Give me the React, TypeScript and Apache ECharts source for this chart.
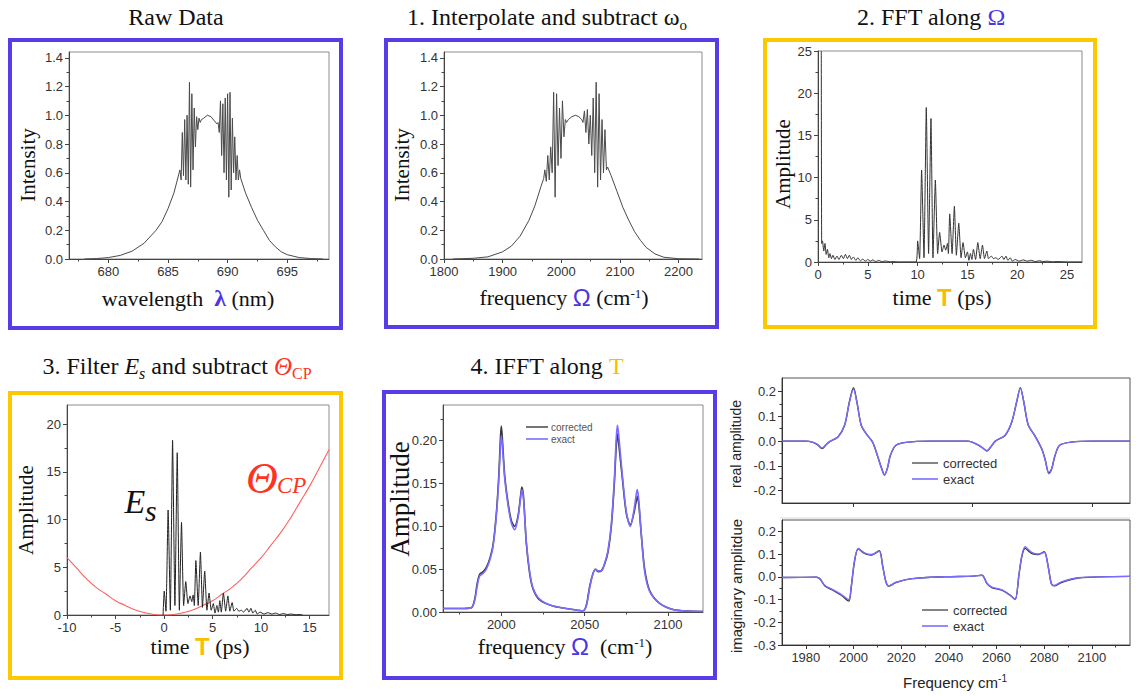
import { useEffect, useRef } from 'react';
import * as echarts from 'echarts';

// ---------------- data ----------------
// Raw data: wavelength (nm) vs intensity
const rawWavelength = [678, 679, 680, 681, 682, 683, 684, 684.5, 685, 685.5,
  686.0, 686.1, 686.2, 686.3, 686.4, 686.5, 686.6, 686.7, 686.8, 686.9,
  687.0, 687.1, 687.2, 687.3, 687.4, 687.5, 687.6, 687.7, 687.8,
  688.0, 688.3, 688.6, 688.9, 689.1,
  689.2, 689.3, 689.4, 689.5, 689.6, 689.7, 689.8, 689.9,
  690.0, 690.1, 690.2, 690.3, 690.4, 690.5, 690.6, 690.7, 690.8, 690.9,
  691.0, 691.1,
  691.5, 692, 692.5, 693, 693.5, 694, 694.5, 695, 696, 697, 698];
const rawIntensity = [0, 0.003, 0.01, 0.025, 0.055, 0.11, 0.2, 0.26, 0.35, 0.46,
  0.62, 0.55, 0.88, 0.58, 0.97, 0.55, 1.0, 0.52, 1.23, 0.5,
  1.15, 0.62, 1.05, 0.78, 0.99, 0.9, 0.98, 0.95, 0.97,
  0.98, 1.0, 0.99, 0.96, 0.94,
  0.95, 0.88, 1.1, 0.72, 1.08, 0.6, 1.12, 0.55,
  1.15, 0.43, 1.16, 0.48, 0.98, 0.6, 0.85, 0.55, 0.72, 0.55,
  0.62, 0.56,
  0.46, 0.36, 0.27, 0.2, 0.13, 0.085, 0.05, 0.03, 0.01, 0.003, 0];

// Step 1: frequency (cm-1) vs intensity
const interpFreq = [1815, 1850, 1875, 1900, 1915, 1930, 1945, 1955, 1965, 1970,
  1972, 1974.5, 1977, 1979.5, 1982, 1984.5, 1987, 1989.5, 1992, 1994.5, 1997, 1999.5, 2002, 2004.5, 2007, 2009,
  2012, 2018, 2024, 2030, 2035,
  2037, 2039.5, 2042, 2044.5, 2047, 2049.5, 2052, 2054.5, 2057, 2059.5, 2062, 2064.5, 2067, 2069.5, 2072, 2074.5, 2077, 2079,
  2085, 2095, 2105, 2115, 2125, 2135, 2145, 2160, 2175, 2200, 2235];
const interpIntensity = [0, 0.005, 0.015, 0.05, 0.09, 0.16, 0.27, 0.37, 0.5, 0.56,
  0.62, 0.54, 0.72, 0.55, 0.78, 0.6, 1.16, 0.43, 1.15, 0.65, 1.05, 0.7, 1.1, 0.85, 0.97, 0.95,
  0.97, 0.99, 1.0, 0.99, 0.97,
  0.95, 1.03, 0.88, 1.04, 0.8, 1.0, 0.72, 1.12, 0.6, 1.23, 0.5, 1.15, 0.55, 0.97, 0.6, 0.9, 0.62, 0.64,
  0.58, 0.47, 0.36, 0.27, 0.19, 0.13, 0.08, 0.035, 0.012, 0.002, 0];

// Step 2: FFT amplitude vs time (ps)
const fftTime = [0.33, 0.37, 0.45, 0.58, 0.7, 0.82, 0.95, 1.08, 1.2, 1.35,
  1.5, 1.7, 1.9, 2.1, 2.35, 2.55, 2.75, 2.95, 3.15, 3.35,
  3.55, 3.8, 4.0, 4.25, 4.5, 4.75, 5.0, 5.25, 5.5, 5.8,
  6.1, 6.4, 6.8, 7.2, 7.6, 8.0, 9.83, 10.0, 10.2, 10.4,
  10.64, 10.87, 11.1, 11.34, 11.54, 11.78, 12.01, 12.21, 12.45, 12.65,
  12.82, 12.99, 13.09, 13.22, 13.46, 13.69, 13.89, 14.13, 14.36, 14.56,
  14.8, 15.0, 15.15, 15.3, 15.45, 15.6, 15.82, 16.04, 16.28, 16.51,
  16.71, 16.95, 17.11, 17.4, 17.6, 17.85, 18.1, 18.46, 18.66, 18.86,
  19.06, 19.3, 19.5, 19.8, 20.2, 20.6, 21.0, 21.4, 21.8, 22.2,
  22.6, 23.0, 23.5, 24.0, 25.0, 26.5];
const fftAmplitude = [25, 2.2, 2.5, 1.3, 2.2, 0.9, 1.5, 0.5, 1.0, 0.4,
  0.8, 0.3, 0.7, 0.3, 0.8, 0.4, 0.9, 0.4, 0.8, 0.3,
  0.6, 0.2, 0.5, 0.15, 0.35, 0.1, 0.3, 0.1, 0.25, 0.05,
  0.2, 0.05, 0.12, 0.02, 0.06, 0, 0, 2.5, 0.4, 10.9,
  0.5, 18.3, 1.0, 17.0, 0.5, 9.7, 1.0, 3.5, 1.2, 2.0,
  1.4, 2.2, 1.0, 5.7, 1.0, 6.6, 0.8, 4.6, 0.5, 2.3,
  0.5, 1.2, 0.2, 1.0, 0.3, 1.5, 0.3, 2.3, 0.4, 2.0,
  0.4, 1.3, 0.4, 0.7, 0.4, 0.5, 0.3, 0.7, 0.3, 0.7,
  0.2, 0.5, 0.1, 0.3, 0.1, 0.25, 0.1, 0.2, 0.05, 0.15,
  0.05, 0.1, 0.02, 0.05, 0, 0];

// Step 3: filtered E_s and chirp phase Θ_CP vs time (ps)
const esTime = [-0.1, 0.02, 0.2, 0.42, 0.65, 0.88, 1.12, 1.36, 1.58, 1.8,
  2.02, 2.24, 2.46, 2.68, 2.86, 3.0, 3.12, 3.28, 3.52, 3.75,
  3.96, 4.19, 4.42, 4.64, 4.86, 5.08, 5.25, 5.45, 5.6, 5.75,
  5.9, 6.12, 6.35, 6.58, 6.78, 7.02, 7.2, 7.48, 7.7, 7.95,
  8.2, 8.55, 8.75, 8.95, 9.15, 9.4, 9.6, 9.9, 10.3, 10.7,
  11.1, 11.5, 11.9, 12.3, 12.7, 13.1, 13.6, 14.0, 14.3];
const esAmplitude = [0, 2.5, 0.4, 11.0, 0.5, 18.3, 1.0, 17.0, 0.5, 9.7,
  1.0, 3.5, 1.2, 2.0, 1.4, 2.1, 1.0, 5.7, 1.0, 6.6,
  0.8, 4.6, 0.5, 2.3, 0.5, 1.2, 0.2, 1.0, 0.3, 1.5,
  0.3, 2.3, 0.4, 2.0, 0.4, 1.3, 0.4, 0.7, 0.4, 0.5,
  0.3, 0.7, 0.3, 0.7, 0.2, 0.5, 0.1, 0.3, 0.1, 0.25,
  0.1, 0.2, 0.05, 0.15, 0.05, 0.1, 0.02, 0.05, 0];
const thetaTime = [-10, -9, -8, -7, -6, -5, -4, -3, -2, -1, 0, 1, 2, 3, 4, 5, 6, 7, 8, 9, 10, 11, 12, 13, 14, 15, 16, 17];
const thetaCP = [6.0, 4.9, 3.8, 2.9, 2.2, 1.5, 1.0, 0.55, 0.25, 0.06, 0, 0.06, 0.25, 0.55, 1.0, 1.5, 2.2, 2.9, 3.8, 4.9, 6.0, 7.3, 8.6, 10.1, 11.8, 13.5, 15.4, 17.3];

// Step 4: IFFT amplitude vs frequency
const ifftFreq = [1965, 1975, 1982, 1984, 1985.5, 1987, 1989, 1991, 1993, 1995,
  1997, 1998.5, 1999.5, 2000, 2000.7, 2002, 2004, 2006, 2008, 2010,
  2011.5, 2012.3, 2013.3, 2015, 2017, 2019, 2023, 2031, 2043, 2049,
  2051, 2053, 2055, 2056.5, 2058, 2060, 2062, 2064, 2066, 2067.8,
  2069, 2069.7, 2070.5, 2072.5, 2075, 2077.4, 2079.5, 2081, 2081.6, 2082.5,
  2084, 2086, 2089, 2095, 2103, 2113, 2121];
const ifftCorrected = [0.004, 0.004, 0.005, 0.015, 0.033, 0.044, 0.047, 0.052, 0.062, 0.078,
  0.115, 0.16, 0.205, 0.217, 0.2, 0.16, 0.128, 0.107, 0.1, 0.112,
  0.135, 0.146, 0.135, 0.08, 0.045, 0.027, 0.014, 0.007, 0.003, 0.0015,
  0.008, 0.03, 0.045, 0.05, 0.047, 0.048, 0.056, 0.07, 0.1, 0.15,
  0.195, 0.208, 0.195, 0.158, 0.115, 0.102, 0.115, 0.13, 0.135, 0.125,
  0.09, 0.05, 0.025, 0.01, 0.003, 0.001, 0.0005];
const ifftExact = [0.004, 0.004, 0.005, 0.013, 0.03, 0.042, 0.045, 0.05, 0.06, 0.076,
  0.112, 0.155, 0.195, 0.206, 0.192, 0.156, 0.125, 0.104, 0.096, 0.11,
  0.132, 0.143, 0.132, 0.082, 0.047, 0.028, 0.015, 0.007, 0.003, 0.0015,
  0.007, 0.028, 0.045, 0.05, 0.048, 0.048, 0.057, 0.072, 0.103, 0.155,
  0.205, 0.218, 0.205, 0.162, 0.117, 0.1, 0.118, 0.138, 0.143, 0.13,
  0.09, 0.047, 0.024, 0.01, 0.003, 0.001, 0.0005];

// Real part
const realFreq = [1970, 1980, 1983, 1985, 1986.8, 1988.5, 1990, 1993.5, 1996.3, 1998.3,
  2000, 2001.4, 2003.2, 2005.3, 2008, 2010, 2011.8, 2013, 2014.2, 2015.5,
  2017.8, 2022, 2032, 2048, 2052.5, 2054.5, 2056, 2057.5, 2059.5, 2063.6,
  2066.4, 2068.5, 2070, 2071.4, 2073.3, 2076, 2078.9, 2080.3, 2082, 2083.2,
  2084.5, 2086.5, 2091.4, 2100, 2116];
const realCorrected = [0, 0, -0.005, -0.015, -0.03, -0.015, -0.002, 0.017, 0.065, 0.16,
  0.216, 0.16, 0.065, 0.03, -0.004, -0.057, -0.11, -0.136, -0.11, -0.057,
  -0.017, -0.005, 0, 0, -0.017, -0.03, -0.04, -0.025, 0, 0.023,
  0.077, 0.16, 0.216, 0.16, 0.065, 0.023, -0.03, -0.07, -0.13, -0.11,
  -0.06, -0.017, -0.004, 0, 0];
const realExact = [0, 0, -0.005, -0.014, -0.028, -0.014, -0.002, 0.018, 0.066, 0.158,
  0.21, 0.158, 0.066, 0.03, -0.004, -0.058, -0.112, -0.138, -0.11, -0.056,
  -0.017, -0.005, 0, 0, -0.016, -0.03, -0.038, -0.024, 0, 0.024,
  0.078, 0.162, 0.214, 0.162, 0.066, 0.022, -0.03, -0.072, -0.132, -0.11,
  -0.058, -0.017, -0.004, 0, 0];

// Imaginary part
const imagFreq = [1970, 1984.5, 1986, 1988, 1991.4, 1994.9, 1998, 1999, 2000.4, 2002,
  2004.6, 2007.4, 2010.8, 2012.2, 2013.6, 2014.7, 2017.8, 2024.7, 2038.6, 2050.4,
  2053.9, 2056, 2058, 2062.2, 2065.7, 2067.8, 2069.4, 2070.6, 2072, 2074.7,
  2077.5, 2080, 2081.7, 2083, 2084.2, 2087.2, 2094.2, 2116];
const imagCorrected = [-0.003, -0.002, -0.01, -0.04, -0.059, -0.081, -0.107, -0.05, 0.066, 0.123,
  0.103, 0.096, 0.115, 0.05, -0.022, -0.041, -0.025, -0.008, 0, 0.003,
  0.007, -0.03, -0.047, -0.059, -0.081, -0.099, 0.007, 0.088, 0.125, 0.103,
  0.098, 0.11, 0.044, -0.03, -0.04, -0.025, -0.005, 0.002];
const imagExact = [-0.003, -0.002, -0.01, -0.038, -0.057, -0.078, -0.1, -0.045, 0.07, 0.125,
  0.105, 0.098, 0.112, 0.048, -0.022, -0.04, -0.024, -0.008, 0, 0.003,
  0.007, -0.028, -0.045, -0.057, -0.08, -0.1, 0.01, 0.092, 0.132, 0.108,
  0.1, 0.108, 0.042, -0.03, -0.038, -0.022, -0.004, 0.002];

// tick values
const ticks1x = [680, 685, 690, 695];
const minor1x = [677.5, 682.5, 687.5, 692.5, 697.5];
const ticksIntensity = [0, 0.2, 0.4, 0.6, 0.8, 1.0, 1.2, 1.4];
const minorIntensity = [0.1, 0.3, 0.5, 0.7, 0.9, 1.1, 1.3];
const ticks2x = [1800, 1900, 2000, 2100, 2200];
const minor2x = [1850, 1950, 2050, 2150];
const ticks3x = [0, 5, 10, 15, 20, 25];
const minor3x = [2.5, 7.5, 12.5, 17.5, 22.5];
const ticks3y = [0, 5, 10, 15, 20, 25];
const minor3y = [2.5, 7.5, 12.5, 17.5, 22.5];
const ticks4x = [-10, -5, 0, 5, 10, 15];
const minor4x = [-7.5, -2.5, 2.5, 7.5, 12.5];
const ticks4y = [0, 5, 10, 15, 20];
const minor4y = [2.5, 7.5, 12.5, 17.5];
const ticks5x = [2000, 2050, 2100];
const minor5x = [1975, 2025, 2075];
const ticks5y = [0, 0.05, 0.1, 0.15, 0.2];
const minor5y = [0.025, 0.075, 0.125, 0.175, 0.225];
const ticks6x = [2000, 2050, 2100];
const ticks6y = [-0.2, -0.1, 0, 0.1, 0.2];
const minor6y = [-0.15, -0.05, 0.05, 0.15];
const ticks7x = [1980, 2000, 2020, 2040, 2060, 2080, 2100];
const minor7x = [1990, 2010, 2030, 2050, 2070, 2090, 2110];
const ticks7y = [-0.3, -0.2, -0.1, 0, 0.1, 0.2];
const minor7y = [-0.25, -0.15, -0.05, 0.05, 0.15];

// ---------------- styling ----------------
const SERIF = "'Liberation Serif', 'Times New Roman', serif";
const SANS = "'Liberation Sans', Arial, sans-serif";
const PURPLE = '#5a3ce6';
const BLUE = '#4a36e2';
const GOLD = '#fcc800';
const GOLD_T = '#f7bf00';
const RED = '#ff3322';
const INK = '#111';

const pair = (xs: number[], ys: number[]) => xs.map((x, i) => [x, ys[i]]);

type AxisSpec = {
  grid: number; min: number; max: number; majors: number[]; minors: number[];
  labels?: boolean; fmt?: (v: number) => string; color?: string;
};

function axisPair(dim: 'x' | 'y', s: AxisSpec) {
  const position = dim === 'x' ? 'bottom' : 'left';
  const c = s.color || '#444';
  const major = {
    type: 'value', gridIndex: s.grid, min: s.min, max: s.max, position,
    axisLine: { show: true, onZero: false, lineStyle: { color: c, width: 1 } },
    axisTick: { show: true, inside: false, length: 4, customValues: s.majors, lineStyle: { color: c, width: 1 } },
    axisLabel: {
      show: s.labels !== false, customValues: s.majors,
      formatter: s.fmt || ((v: number) => String(v)),
      color: '#333', fontSize: 13, fontFamily: SANS, margin: 6,
    },
    splitLine: { show: false },
    minorTick: { show: false },
  };
  const minor = {
    type: 'value', gridIndex: s.grid, min: s.min, max: s.max, position,
    axisLine: { show: false, onZero: false },
    axisTick: { show: s.minors.length > 0, inside: false, length: 2.5, customValues: s.minors.length ? s.minors : [s.min], lineStyle: { color: c, width: 1 } },
    axisLabel: { show: false },
    splitLine: { show: false },
  };
  return [major, minor];
}

const f1 = (v: number) => v.toFixed(1);
const f2 = (v: number) => v.toFixed(2);

const gridBoxes = [
  { left: 69, top: 52, width: 260, height: 207, borderColor: '#8c8c8c' },
  { left: 444, top: 52, width: 258, height: 207, borderColor: '#8c8c8c' },
  { left: 818, top: 51, width: 264, height: 211, borderColor: '#8c8c8c' },
  { left: 67, top: 405, width: 262, height: 210, borderColor: '#8c8c8c' },
  { left: 443, top: 405, width: 260, height: 207, borderColor: '#8c8c8c' },
  { left: 782, top: 378, width: 348, height: 125, borderColor: '#555' },
  { left: 782, top: 520, width: 348, height: 125, borderColor: '#555' },
];

function lineSeries(g: number, data: number[][], color: string, width: number, smooth: number | boolean = false, z = 2) {
  return {
    type: 'line', xAxisIndex: 2 * g, yAxisIndex: 2 * g, data,
    showSymbol: false, symbol: 'none', smooth, clip: true, silent: true, z,
    lineStyle: { color, width },
  };
}

function serifRich(size: number, extra: Record<string, any> = {}) {
  return { fontFamily: SERIF, fontSize: size, fill: INK, lineHeight: 30, ...extra };
}

function buildOption() {
  const xSpecs: AxisSpec[] = [
    { grid: 0, min: 676.7, max: 698.5, majors: ticks1x, minors: minor1x },
    { grid: 1, min: 1800, max: 2240, majors: ticks2x, minors: minor2x },
    { grid: 2, min: 0, max: 26.5, majors: ticks3x, minors: minor3x },
    { grid: 3, min: -10, max: 17, majors: ticks4x, minors: minor4x },
    { grid: 4, min: 1965, max: 2121, majors: ticks5x, minors: minor5x },
    { grid: 5, min: 1970, max: 2116, majors: ticks6x, minors: [], labels: false, color: '#333' },
    { grid: 6, min: 1970, max: 2116, majors: ticks7x, minors: minor7x, color: '#333' },
  ];
  const ySpecs: AxisSpec[] = [
    { grid: 0, min: 0, max: 1.44, majors: ticksIntensity, minors: minorIntensity, fmt: f1 },
    { grid: 1, min: 0, max: 1.44, majors: ticksIntensity, minors: minorIntensity, fmt: f1 },
    { grid: 2, min: 0, max: 25, majors: ticks3y, minors: minor3y },
    { grid: 3, min: 0, max: 22, majors: ticks4y, minors: minor4y },
    { grid: 4, min: 0, max: 0.2417, majors: ticks5y, minors: minor5y, fmt: f2 },
    { grid: 5, min: -0.25, max: 0.255, majors: ticks6y, minors: minor6y, fmt: f1, color: '#333' },
    { grid: 6, min: -0.3, max: 0.25, majors: ticks7y, minors: minor7y, fmt: f1, color: '#333' },
  ];
  const xAxis: any[] = [];
  const yAxis: any[] = [];
  xSpecs.forEach((s) => xAxis.push(...axisPair('x', s)));
  ySpecs.forEach((s) => yAxis.push(...axisPair('y', s)));

  const grid = gridBoxes.map((g) => ({
    left: g.left, top: g.top, width: g.width, height: g.height,
    show: true, borderColor: g.borderColor, borderWidth: 1, backgroundColor: 'transparent', containLabel: false,
  }));

  const EXACT = '#7a6cff';
  const series = [
    lineSeries(0, pair(rawWavelength, rawIntensity), '#4a4a4a', 1),
    lineSeries(1, pair(interpFreq, interpIntensity), '#4a4a4a', 1),
    lineSeries(2, pair(fftTime, fftAmplitude), '#333', 1, 0.15),
    lineSeries(3, pair(thetaTime, thetaCP), '#ff6060', 1.1, true, 1),
    lineSeries(3, pair(esTime, esAmplitude), '#222', 1, 0.15),
    lineSeries(4, pair(ifftFreq, ifftCorrected), '#3a3a3a', 1.6, 0.3),
    lineSeries(4, pair(ifftFreq, ifftExact), EXACT, 1.6, 0.3, 3),
    lineSeries(5, pair(realFreq, realCorrected), '#333', 1.4, 0.3),
    lineSeries(5, pair(realFreq, realExact), EXACT, 1.4, 0.3, 3),
    lineSeries(6, pair(imagFreq, imagCorrected), '#333', 1.4, 0.3),
    lineSeries(6, pair(imagFreq, imagExact), EXACT, 1.4, 0.3, 3),
  ];

  const box = (x: number, y: number, w: number, h: number, stroke: string) => ({
    type: 'rect', shape: { x, y, width: w, height: h }, silent: true,
    style: { fill: 'none', stroke, lineWidth: 4 },
  });

  const richText = (x: number, y: number, text: string, rich: Record<string, any>, rotation = 0, align = 'center') => ({
    type: 'text', x, y, rotation, silent: true,
    style: { text, rich, align, verticalAlign: 'middle', fontFamily: SERIF, fontSize: 24, fill: INK },
  });

  const plainText = (x: number, y: number, text: string, font: string, size: number, fill: string, rotation = 0, align = 'center', extra: Record<string, any> = {}) => ({
    type: 'text', x, y, rotation, silent: true,
    style: { text, fontFamily: font, fontSize: size, fill, align, verticalAlign: 'middle', ...extra },
  });

  const legendLine = (x1: number, x2: number, y: number, color: string, w: number) => ({
    type: 'line', silent: true, shape: { x1, y1: y, x2, y2: y }, style: { stroke: color, lineWidth: w },
  });

  const titleRich = {
    m: serifRich(24),
    s: serifRich(15, { verticalAlign: 'bottom', lineHeight: 15 }),
    i: serifRich(24, { fontStyle: 'italic' }),
    is: serifRich(16, { fontStyle: 'italic', verticalAlign: 'bottom', lineHeight: 16 }),
    b: serifRich(24, { fill: BLUE }),
    y: serifRich(24, { fill: GOLD_T }),
    ri: serifRich(25, { fontStyle: 'italic', fill: RED }),
    rs: serifRich(16, { fill: RED, verticalAlign: 'bottom', lineHeight: 16 }),
  };
  const nameRich = {
    m: serifRich(22, { lineHeight: 20 }),
    sup: serifRich(13, { verticalAlign: 'top', lineHeight: 13 }),
    lam: serifRich(24, { fill: BLUE, fontWeight: 'bold', lineHeight: 20 }),
    om: { fontFamily: SANS, fontSize: 24, fill: BLUE, lineHeight: 20 },
    t: { fontFamily: SANS, fontSize: 24, fontWeight: 'bold', fill: GOLD_T, lineHeight: 20 },
  };

  const graphic = [
    // panel frames
    box(10, 40, 331, 288, PURPLE),
    box(386, 40, 331, 287, PURPLE),
    box(765, 40, 330, 287, GOLD),
    box(10, 393, 331, 285, GOLD),
    box(384, 392, 331, 286, PURPLE),
    // faint separator under the real-part plot
    { type: 'line', silent: true, shape: { x1: 780, y1: 518, x2: 1130, y2: 518 }, style: { stroke: '#d6d6d6', lineWidth: 1 } },

    // titles
    richText(176, 17, '{m|Raw Data}', titleRich),
    richText(547, 17, '{m|1. Interpolate and subtract ω}{s|o}', titleRich),
    richText(931, 17, '{m|2. FFT along }{b|Ω}', titleRich),
    richText(177, 366, '{m|3. Filter }{i|E}{is|s}{m| }{m|and subtract }{ri|Θ}{rs|CP}', titleRich),
    richText(547, 366, '{m|4. IFFT along }{y|T}', titleRich),

    // x-axis names
    richText(188, 298, '{m|wavelength  }{lam|λ}{m| }{m|(nm)}', nameRich),
    richText(564, 297, '{m|frequency }{om|Ω}{m| }{m|(cm}{sup|-1}{m|)}', nameRich),
    richText(942, 297, '{m|time }{t|T}{m| }{m|(ps)}', nameRich),
    richText(200, 646, '{m|time }{t|T}{m| }{m|(ps)}', nameRich),
    richText(565, 646, '{m|frequency }{om|Ω}{m|  }{m|(cm}{sup|-1}{m|)}', nameRich),
    richText(955, 682, '{a|Frequency cm}{b|-1}', {
      a: { fontFamily: SANS, fontSize: 15, fill: '#222', lineHeight: 18 },
      b: { fontFamily: SANS, fontSize: 10, fill: '#222', verticalAlign: 'top', lineHeight: 10 },
    }),

    // y-axis names
    plainText(28, 165, 'Intensity', SERIF, 21, INK, Math.PI / 2),
    plainText(402, 165, 'Intensity', SERIF, 21, INK, Math.PI / 2),
    plainText(783, 164, 'Amplitude', SERIF, 21, INK, Math.PI / 2),
    plainText(26, 510, 'Amplitude', SERIF, 21, INK, Math.PI / 2),
    plainText(400, 499, 'Amplitude', SERIF, 27, INK, Math.PI / 2),
    plainText(736, 444, 'real amplitude', SANS, 14, '#222', Math.PI / 2),
    plainText(736, 586, 'imaginary amplitdue', SANS, 15, '#222', Math.PI / 2),

    // E_s and Θ_CP labels
    plainText(135, 501, 'E', SERIF, 34, INK, 0, 'center', { fontStyle: 'italic' }),
    plainText(145, 510, 's', SERIF, 30, INK, 0, 'left', { fontStyle: 'italic' }),
    plainText(262, 478, 'Θ', SERIF, 44, RED, 0, 'center', { fontStyle: 'italic' }),
    plainText(277, 485, 'CP', SERIF, 23, RED, 0, 'left', { fontStyle: 'italic' }),

    // legends
    legendLine(526, 548, 427, '#3a3a3a', 1.4),
    plainText(551, 427, 'corrected', SANS, 10, '#555', 0, 'left'),
    legendLine(526, 548, 439, '#7a6cff', 1.6),
    plainText(551, 439, 'exact', SANS, 10, '#555', 0, 'left'),

    legendLine(912, 938, 463, '#333', 1.2),
    plainText(943, 463, 'corrected', SANS, 13, '#333', 0, 'left'),
    legendLine(912, 938, 479, '#7a6cff', 1.6),
    plainText(943, 479, 'exact', SANS, 13, '#333', 0, 'left'),

    legendLine(922, 948, 610, '#333', 1.2),
    plainText(953, 610, 'corrected', SANS, 13, '#333', 0, 'left'),
    legendLine(922, 948, 626, '#7a6cff', 1.6),
    plainText(953, 626, 'exact', SANS, 13, '#333', 0, 'left'),
  ];

  return {
    animation: false,
    backgroundColor: '#ffffff',
    grid, xAxis, yAxis, series,
    graphic: { elements: graphic },
  };
}

export default function App() {
  const ref = useRef<HTMLDivElement>(null);
  useEffect(() => {
    if (!ref.current) return;
    const chart = echarts.init(ref.current, undefined, { renderer: 'svg' });
    chart.setOption(buildOption() as any);
    return () => chart.dispose();
  }, []);
  return (
    <div
      ref={ref}
      style={{ position: 'absolute', left: 0, top: 0, width: 1136, height: 696, background: '#fff' }}
    />
  );
}
